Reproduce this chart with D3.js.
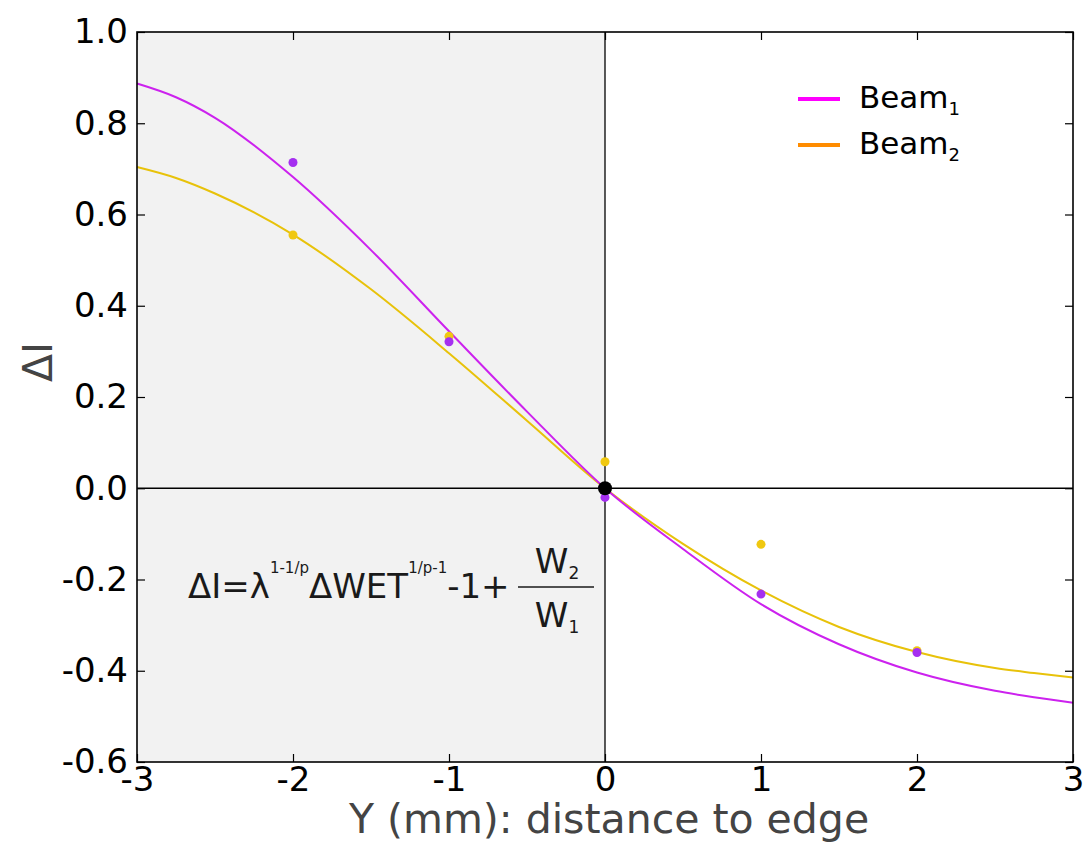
<!DOCTYPE html>
<html>
<head>
<meta charset="utf-8">
<script src="https://cdn.jsdelivr.net/npm/d3@7"></script>
<style>
  html, body { margin: 0; padding: 0; background: #ffffff; }
  svg { display: block; font-family: "DejaVu Sans", sans-serif; }
</style>
</head>
<body>
<svg id="chart" width="1086" height="843"></svg>
<script>
// Fitted curves, sampled along the distance axis
const curveX = [-3, -2.75, -2.5, -2, -1.5, -1, -0.5, 0, 0.5, 1, 1.5, 2, 2.5, 2.75, 3];
const beam1Fit = [0.887, 0.857, 0.812, 0.682, 0.522, 0.344, 0.168, 0, -0.133, -0.254, -0.342, -0.404, -0.444, -0.458, -0.470];
const beam2Fit = [0.704, 0.680, 0.646, 0.556, 0.436, 0.296, 0.148, 0, -0.122, -0.224, -0.304, -0.359, -0.394, -0.405, -0.415];

// Measured points
const pointX = [-2, -1, 0, 1, 2];
const beam1Points = [0.714, 0.321, -0.020, -0.232, -0.360];
const beam2Points = [0.555, 0.333, 0.058, -0.123, -0.356];

const xTicks = [-3, -2, -1, 0, 1, 2, 3];
const yTicks = [-0.6, -0.4, -0.2, 0.0, 0.2, 0.4, 0.6, 0.8, 1.0];

const seriesNames = ["Beam", "Beam"];
const seriesSubs = ["1", "2"];

const svg = d3.select("#chart");
const plotL = 137, plotR = 1073, plotT = 32, plotB = 762;

const x = d3.scaleLinear().domain([-3, 3]).range([plotL, plotR]);
const y = d3.scaleLinear().domain([-0.6, 1.0]).range([plotB, plotT]);

// Shaded half (negative distances)
svg.append("rect")
  .attr("x", x(-3)).attr("y", plotT)
  .attr("width", x(0) - x(-3)).attr("height", plotB - plotT)
  .attr("fill", "#f2f2f2");

// Zero lines
svg.append("line")
  .attr("x1", x(0)).attr("x2", x(0)).attr("y1", plotT).attr("y2", plotB)
  .attr("stroke", "#000").attr("stroke-width", 1.3);
svg.append("line")
  .attr("x1", plotL).attr("x2", plotR).attr("y1", y(0)).attr("y2", y(0))
  .attr("stroke", "#000").attr("stroke-width", 1.3);

// Fitted curves
const line = d3.line()
  .x((d, i) => x(curveX[i]))
  .y(d => y(d))
  .curve(d3.curveMonotoneX);

svg.append("path").datum(beam2Fit)
  .attr("d", line).attr("fill", "none")
  .attr("stroke", "#e8c20a").attr("stroke-width", 2);
svg.append("path").datum(beam1Fit)
  .attr("d", line).attr("fill", "none")
  .attr("stroke", "#cc22ee").attr("stroke-width", 2);

// Measured points
svg.append("g").selectAll("circle").data(beam2Points).join("circle")
  .attr("cx", (d, i) => x(pointX[i])).attr("cy", d => y(d))
  .attr("r", 4.5).attr("fill", "#f0c810");
svg.append("g").selectAll("circle").data(beam1Points).join("circle")
  .attr("cx", (d, i) => x(pointX[i])).attr("cy", d => y(d))
  .attr("r", 4.5).attr("fill", "#a52ff0");

// Origin marker
svg.append("circle").attr("cx", x(0)).attr("cy", y(0)).attr("r", 7).attr("fill", "#000");

// Axes with inward ticks on all four sides
const tickFmtY = d3.format(".1f");
const gx = svg.append("g").attr("transform", `translate(0,${plotB})`)
  .call(d3.axisBottom(x).tickValues(xTicks).tickFormat(d3.format("d"))
    .tickSizeInner(-8).tickSizeOuter(0).tickPadding(5));
const gy = svg.append("g").attr("transform", `translate(${plotL},0)`)
  .call(d3.axisLeft(y).tickValues(yTicks).tickFormat(tickFmtY)
    .tickSizeInner(-8).tickSizeOuter(0).tickPadding(9));
const gt = svg.append("g").attr("transform", `translate(0,${plotT})`)
  .call(d3.axisTop(x).tickValues(xTicks).tickFormat("")
    .tickSizeInner(-8).tickSizeOuter(0));
const gr = svg.append("g").attr("transform", `translate(${plotR},0)`)
  .call(d3.axisRight(y).tickValues(yTicks).tickFormat("")
    .tickSizeInner(-8).tickSizeOuter(0));

[gx, gy, gt, gr].forEach(g => {
  g.select(".domain").remove();
  g.selectAll(".tick line").attr("stroke", "#000").attr("stroke-width", 1.2);
  g.selectAll("text").attr("font-family", "DejaVu Sans, sans-serif")
    .attr("font-size", 34).attr("fill", "#000");
});
gx.selectAll("text").text(d => d < 0 ? "-" + Math.abs(d) : d);
gy.selectAll("text").text(d => (d < 0 ? "-" : "") + tickFmtY(Math.abs(d)));

// Frame
svg.append("rect")
  .attr("x", plotL).attr("y", plotT).attr("width", plotR - plotL).attr("height", plotB - plotT)
  .attr("fill", "none").attr("stroke", "#000").attr("stroke-width", 1.6);

// Axis titles
svg.append("text")
  .attr("x", x(0) + 4).attr("y", 833)
  .attr("text-anchor", "middle").attr("font-size", 41).attr("fill", "#444")
  .text("Y (mm): distance to edge");
svg.append("text")
  .attr("transform", "translate(52,362) rotate(-90)")
  .attr("text-anchor", "middle").attr("font-size", 41).attr("fill", "#444")
  .text("ΔI");

// Legend
const legendColors = ["#ff00ff", "#ff8c00"];
const legendY = [99, 145];
const lg = svg.append("g");
seriesNames.forEach((name, i) => {
  lg.append("line")
    .attr("x1", 798).attr("x2", 840).attr("y1", legendY[i]).attr("y2", legendY[i])
    .attr("stroke", legendColors[i]).attr("stroke-width", 4);
  const t = lg.append("text").attr("x", 859).attr("y", legendY[i] + 9)
    .attr("font-size", 31).attr("fill", "#000");
  t.append("tspan").text(name);
  t.append("tspan").attr("dy", 7).attr("font-size", 18).text(seriesSubs[i]);
});

// Formula annotation
const fc = "#1a1a1a";
const f = svg.append("g").attr("fill", fc);
const main = f.append("text").attr("x", 188).attr("y", 598).attr("font-size", 34);
main.append("tspan").text("ΔI=λ");
main.append("tspan").attr("font-size", 15).attr("dy", -25).text("1-1/p");
main.append("tspan").attr("dy", 25).text("ΔWET");
main.append("tspan").attr("font-size", 15).attr("dy", -25).text("1/p-1");
main.append("tspan").attr("dy", 25).text("-1+");
const num = f.append("text").attr("x", 557).attr("y", 573).attr("text-anchor", "middle").attr("font-size", 34);
num.append("tspan").text("W");
num.append("tspan").attr("font-size", 17).attr("dy", 6).text("2");
const den = f.append("text").attr("x", 557).attr("y", 627).attr("text-anchor", "middle").attr("font-size", 34);
den.append("tspan").text("W");
den.append("tspan").attr("font-size", 17).attr("dy", 6).text("1");
f.append("line").attr("x1", 518).attr("x2", 594).attr("y1", 587).attr("y2", 587)
  .attr("stroke", fc).attr("stroke-width", 1.3);
</script>
</body>
</html>
